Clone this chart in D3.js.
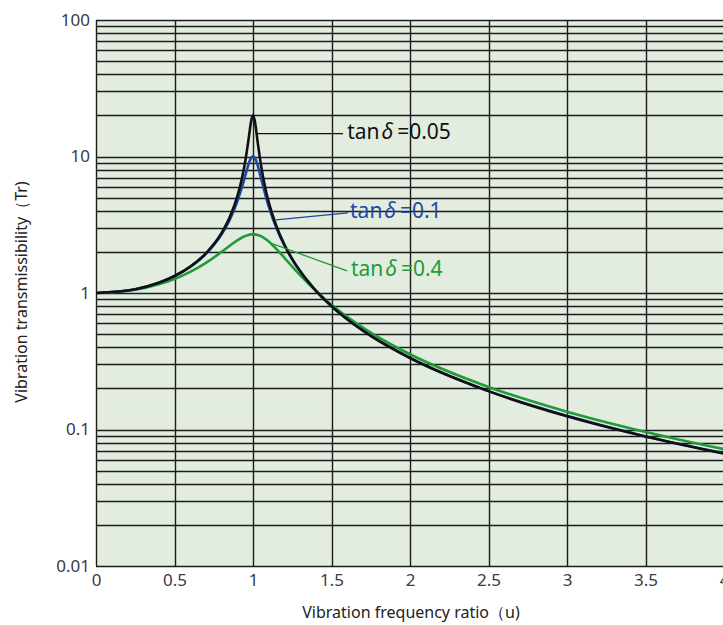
<!DOCTYPE html>
<html>
<head>
<meta charset="utf-8">
<script src="https://cdn.jsdelivr.net/npm/d3@7"></script>
<style>
  html, body { margin: 0; padding: 0; background: #fff; }
  svg { display: block; font-family: "Noto Sans", sans-serif; }
</style>
</head>
<body>
<svg id="chart" width="723" height="625"></svg>
<script>
// frequency ratio u (x values shared by all three curves)
var ratios = [0, 0.25, 0.4, 0.5, 0.6, 0.7, 0.8, 0.85, 0.9, 0.93, 0.95, 0.97, 0.99, 1,
  1.01, 1.03, 1.05, 1.08, 1.1, 1.15, 1.2, 1.25, 1.3, 1.4, 1.5, 1.6, 1.75, 2, 2.5, 3, 3.5, 4];

// transmissibility
var trTan005 = [1, 1.066, 1.19, 1.332, 1.56, 1.954, 2.755, 3.551, 5.096, 6.95, 9.138, 12.93, 18.6, 20.02,
  18.58, 12.7, 8.78, 5.76, 4.638, 3.068, 2.261, 1.773, 1.447, 1.042, 0.800, 0.642, 0.485, 0.334, 0.191, 0.125, 0.089, 0.0667];
var trTan01 = [1, 1.066, 1.188, 1.328, 1.551, 1.934, 2.69, 3.407, 4.681, 5.979, 7.196, 8.652, 9.857, 10.05,
  9.853, 8.583, 7.018, 5.177, 4.321, 2.977, 2.227, 1.759, 1.441, 1.041, 0.801, 0.643, 0.487, 0.335, 0.191, 0.126, 0.089, 0.067];
var trTan04 = [1, 1.057, 1.158, 1.267, 1.427, 1.662, 2.001, 2.212, 2.432, 2.551, 2.616, 2.664, 2.689, 2.693,
  2.689, 2.662, 2.608, 2.486, 2.384, 2.096, 1.811, 1.56, 1.35, 1.036, 0.821, 0.669, 0.513, 0.356, 0.205, 0.135, 0.096, 0.0718];

var xTicks = [0, 0.5, 1, 1.5, 2, 2.5, 3, 3.5, 4];
var yTicks = [0.01, 0.1, 1, 10, 100];
var tanLabels = ['0.05', '0.1', '0.4'];

var svg = d3.select('#chart');
var plotL = 96, plotT = 20, plotR = 724, plotB = 566;

var x = d3.scaleLinear().domain([0, 4]).range([plotL, plotR]);
var y = d3.scaleLog().domain([0.01, 100]).range([plotB, plotT]);

svg.append('rect')
    .attr('x', plotL).attr('y', plotT)
    .attr('width', plotR - plotL).attr('height', plotB - plotT)
    .attr('fill', '#e2ede0');

// minor log grid: 1..9 in every decade
var minor = [];
for (var d = 0.01; d < 99; d *= 10) {
  for (var k = 1; k < 10; k++) {
    minor.push(+(d * k).toPrecision(3));
  }
}
minor.push(100);

var grid = svg.append('g').attr('stroke', '#1c1c1c').attr('stroke-width', 1.4);
grid.selectAll('line.h').data(minor).enter().append('line')
    .attr('class', 'h')
    .attr('x1', plotL).attr('x2', plotR)
    .attr('y1', function(v) { return Math.round(y(v)) + 0.5; })
    .attr('y2', function(v) { return Math.round(y(v)) + 0.5; });
grid.selectAll('line.v').data(xTicks).enter().append('line')
    .attr('class', 'v')
    .attr('y1', plotT).attr('y2', plotB)
    .attr('x1', function(v) { return Math.round(x(v)) + 0.5; })
    .attr('x2', function(v) { return Math.round(x(v)) + 0.5; });

// axes labels
var yAxis = d3.axisLeft(y).tickValues(yTicks).tickSize(0).tickPadding(6)
    .tickFormat(function(v) { return String(v); });
var gy = svg.append('g').attr('transform', 'translate(' + plotL + ',0)').call(yAxis);
gy.select('.domain').remove();
gy.selectAll('text').attr('font-size', 17).attr('fill', '#3b3b45')
    .attr('font-family', '"Noto Sans", sans-serif');

var xAxis = d3.axisBottom(x).tickValues(xTicks).tickSize(0).tickPadding(8)
    .tickFormat(function(v) { return String(v); });
var gx = svg.append('g').attr('transform', 'translate(0,' + plotB + ')').call(xAxis);
gx.select('.domain').remove();
gx.selectAll('text').attr('font-size', 17).attr('fill', '#3b3b45')
    .attr('font-family', '"Noto Sans", sans-serif');

svg.append('text')
    .attr('x', 411).attr('y', 618)
    .attr('text-anchor', 'middle')
    .attr('font-size', 16).attr('fill', '#222')
    .text('Vibration frequency ratio（u)');

svg.append('text')
    .attr('transform', 'translate(27,292) rotate(-90)')
    .attr('text-anchor', 'middle')
    .attr('font-size', 16).attr('fill', '#222')
    .text('Vibration transmissibility（Tr)');

// curves
var line = d3.line()
    .x(function(d) { return x(d[0]); })
    .y(function(d) { return y(d[1]); })
    .curve(d3.curveMonotoneX);

var series = [
  {values: trTan04, color: '#219a38'},
  {values: trTan01, color: '#1c48a8'},
  {values: trTan005, color: '#111111'}
];

svg.append('clipPath').attr('id', 'plot-clip').append('rect')
    .attr('x', plotL).attr('y', plotT).attr('width', plotR - plotL).attr('height', plotB - plotT);

var curves = svg.append('g').attr('clip-path', 'url(#plot-clip)');
series.forEach(function(s) {
  curves.append('path')
      .datum(ratios.map(function(u, i) { return [u, s.values[i]]; }))
      .attr('fill', 'none')
      .attr('stroke', s.color)
      .attr('stroke-width', 2.6)
      .attr('d', line);
});

// leader lines and labels
var notes = [
  {label: tanLabels[0], color: '#111111', from: [1.025, 14.7], to: [1.573, 14.7], tx: [1.6, 15.1]},
  {label: tanLabels[1], color: '#1c48a8', from: [1.146, 3.43], to: [1.605, 3.86], tx: [1.618, 3.99]},
  {label: tanLabels[2], color: '#219a38', from: [1.127, 2.29], to: [1.599, 1.45], tx: [1.624, 1.5]}
];
notes.forEach(function(n) {
  svg.append('line')
      .attr('x1', x(n.from[0])).attr('y1', y(n.from[1]))
      .attr('x2', x(n.to[0])).attr('y2', y(n.to[1]))
      .attr('stroke', n.color).attr('stroke-width', 1.3);
  var t = svg.append('text')
      .attr('x', x(n.tx[0])).attr('y', y(n.tx[1]))
      .attr('dy', '0.35em')
      .attr('font-size', 21)
      .attr('fill', n.color);
  t.append('tspan').text('tan');
  t.append('tspan').attr('font-style', 'italic').attr('dx', 2).text('δ');
  t.append('tspan').attr('dx', 4).text('=' + n.label);
});
</script>
</body>
</html>
